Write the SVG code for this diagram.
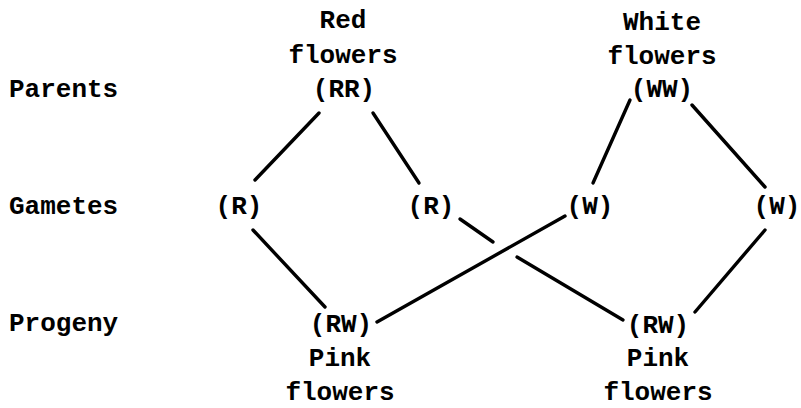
<svg xmlns="http://www.w3.org/2000/svg" width="801" height="408" viewBox="0 0 801 408">
<style>
text{font-family:"Liberation Mono","Courier New",monospace;font-weight:bold;font-size:26px;fill:#000}
.c{text-anchor:middle}
.edge{stroke:#000;stroke-width:3.4;stroke-linecap:round;fill:none}
</style>
<rect width="801" height="408" fill="#fff"/>
<g id="labels">
<text x="9" y="97">Parents</text>
<text x="9" y="214">Gametes</text>
<text x="9" y="331">Progeny</text>
</g>
<g id="parent-red">
<text class="c" x="343" y="28">Red</text>
<text class="c" x="343" y="63">flowers</text>
<text class="c" x="344" y="97">(RR)</text>
</g>
<g id="parent-white">
<text class="c" x="662" y="30">White</text>
<text class="c" x="662" y="64">flowers</text>
<text class="c" x="662" y="97">(WW)</text>
</g>
<g id="gamete-r1"><text class="c" x="239" y="214">(R)</text></g>
<g id="gamete-r2"><text class="c" x="431" y="214">(R)</text></g>
<g id="gamete-w1"><text class="c" x="590" y="214">(W)</text></g>
<g id="gamete-w2"><text class="c" x="777" y="214">(W)</text></g>
<g id="progeny-1">
<text class="c" x="341" y="332">(RW)</text>
<text class="c" x="340" y="366">Pink</text>
<text class="c" x="340" y="400">flowers</text>
</g>
<g id="progeny-2">
<text class="c" x="658" y="333">(RW)</text>
<text class="c" x="658" y="366">Pink</text>
<text class="c" x="658" y="400">flowers</text>
</g>
<g id="connectors">
<line class="edge" x1="319" y1="113" x2="255" y2="180"/>
<line class="edge" x1="373" y1="113" x2="419" y2="183"/>
<line class="edge" x1="630" y1="100" x2="593" y2="183"/>
<line class="edge" x1="692" y1="105" x2="765" y2="187"/>
<line class="edge" x1="253" y1="230" x2="325" y2="307"/>
<line class="edge" x1="565" y1="216" x2="377" y2="322"/>
<line class="edge" x1="460" y1="219" x2="493" y2="242"/>
<line class="edge" x1="517" y1="257" x2="623" y2="320"/>
<line class="edge" x1="765" y1="230" x2="695" y2="312"/>
</g>
</svg>
